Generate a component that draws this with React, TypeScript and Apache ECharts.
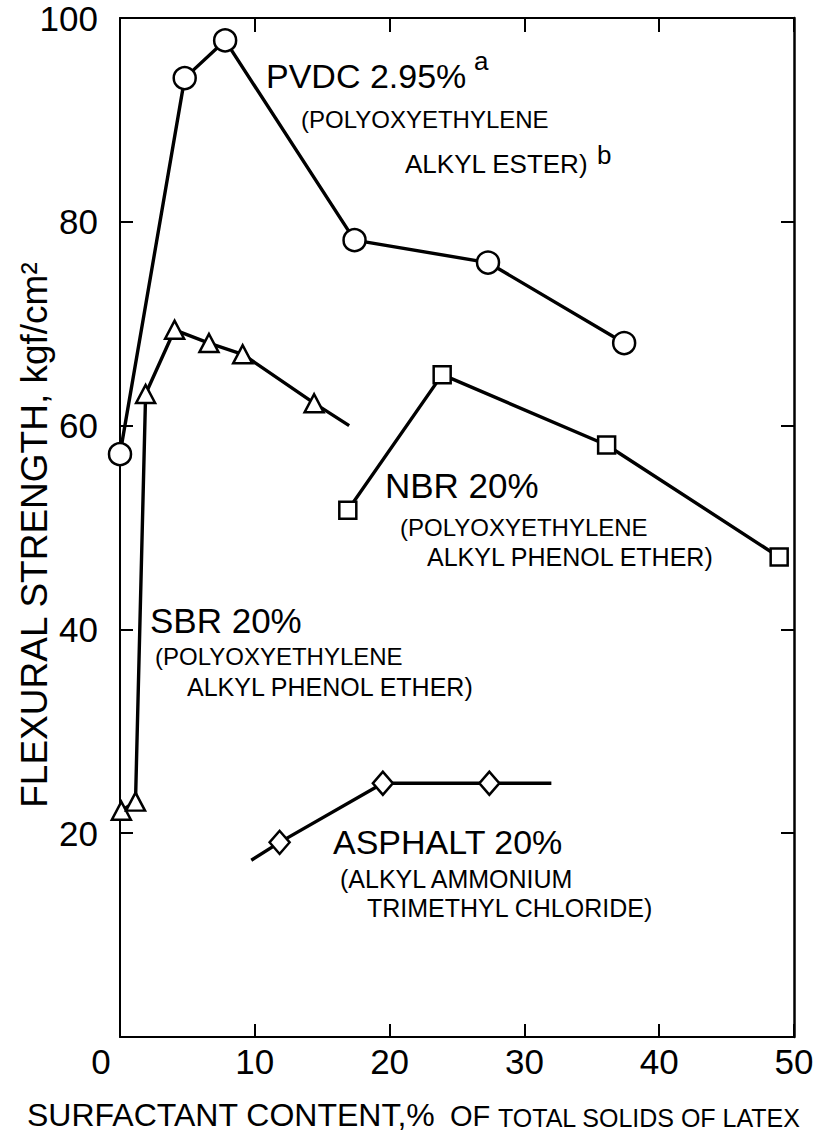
import React, { useEffect, useRef } from 'react';
import * as echarts from 'echarts';

const FONT = "'Liberation Sans', Arial, sans-serif";

// Axis ticks
const xMin = 0, xMax = 50, xStep = 10;
const yMin = 0, yMax = 100, yStep = 20;

// PVDC 2.95% (circles)
const pvdcX = [0, 4.8, 7.8, 17.4, 27.3, 37.4];
const pvdcY = [57.2, 94.1, 97.8, 78.2, 76.0, 68.1];

// SBR 20% (triangles); last point is the line end without marker
const sbrX = [0.1, 1.15, 1.9, 4.05, 6.6, 9.1, 14.4, 17.0];
const sbrY = [22.2, 23.1, 63.1, 69.4, 68.1, 67.0, 62.2, 60.0];
const sbrMarked = [true, true, true, true, true, true, true, false];

// NBR 20% (squares)
const nbrX = [16.9, 23.9, 36.1, 48.9];
const nbrY = [51.7, 65.0, 58.1, 47.1];

// ASPHALT 20% (diamonds); first and last are line ends without marker
const asphX = [9.74, 11.84, 19.5, 27.4, 32.0];
const asphY = [17.35, 19.1, 24.9, 24.9, 24.9];
const asphMarked = [false, true, true, true, false];

function pts(xs: number[], ys: number[], marked?: boolean[]) {
  return xs.map((x, i) =>
    marked && !marked[i] ? { value: [x, ys[i]], symbol: 'none' } : { value: [x, ys[i]] }
  );
}

function lineSeries(name: string, data: any[], symbol: string, size: any) {
  return {
    name,
    type: 'line',
    data,
    symbol,
    symbolSize: size,
    showSymbol: true,
    showAllSymbol: true,
    lineStyle: { color: '#000', width: 3.4 },
    itemStyle: { color: '#fff', borderColor: '#000', borderWidth: 2.5 },
    emphasis: { disabled: true },
    z: 3,
  };
}

function txt(text: string, x: number, y: number, size: number) {
  return {
    type: 'text',
    x,
    y,
    style: { text, fontSize: size, fontFamily: FONT, fill: '#000', align: 'left', verticalAlign: 'middle' },
  };
}

const axisLineStyle = { color: '#000', width: 2 };

export default function App() {
  const ref = useRef<HTMLDivElement>(null);
  useEffect(() => {
    const chart = echarts.init(ref.current!, null, { renderer: 'svg' });
    const option: any = {
      animation: false,
      backgroundColor: '#fff',
      grid: { left: 120, right: 29, top: 18, bottom: 103, containLabel: false, outerBoundsMode: 'none' },
      xAxis: [
        {
          type: 'value', min: xMin, max: xMax, interval: xStep, position: 'bottom',
          axisLine: { show: true, onZero: false, lineStyle: axisLineStyle },
          axisTick: { show: true, inside: true, length: 13, lineStyle: axisLineStyle },
          splitLine: { show: false },
          axisLabel: {
            show: true, fontSize: 35, fontFamily: FONT, color: '#000', margin: 7,
            formatter: (v: number) => (v === 0 ? '{z|0}' : String(v)),
            rich: { z: { fontSize: 35, fontFamily: FONT, color: '#000', padding: [0, 38, 0, 0] } },
          },
        },
        {
          type: 'value', min: xMin, max: xMax, interval: xStep, position: 'top',
          axisLine: { show: true, onZero: false, lineStyle: axisLineStyle },
          axisTick: { show: true, inside: true, length: 14, lineStyle: axisLineStyle },
          splitLine: { show: false },
          axisLabel: { show: false },
        },
      ],
      yAxis: [
        {
          type: 'value', min: yMin, max: yMax, interval: yStep, position: 'left',
          axisLine: { show: true, onZero: false, lineStyle: axisLineStyle },
          axisTick: { show: true, inside: true, length: 13, lineStyle: axisLineStyle },
          splitLine: { show: false },
          axisLabel: {
            show: true, fontSize: 35, fontFamily: FONT, color: '#000', margin: 22,
            formatter: (v: number) => (v === 0 ? '' : String(v)),
          },
        },
        {
          type: 'value', min: yMin, max: yMax, interval: yStep, position: 'right',
          axisLine: { show: true, onZero: false, lineStyle: { color: '#000', width: 2.5 } },
          axisTick: { show: true, inside: true, length: 13, lineStyle: axisLineStyle },
          splitLine: { show: false },
          axisLabel: { show: false },
        },
      ],
      series: [
        lineSeries('PVDC', pts(pvdcX, pvdcY), 'circle', 22),
        lineSeries('SBR', pts(sbrX, sbrY, sbrMarked), 'triangle', [19, 18]),
        lineSeries('NBR', pts(nbrX, nbrY), 'rect', 17),
        lineSeries('ASPHALT', pts(asphX, asphY, asphMarked), 'diamond', [20, 23]),
      ],
      graphic: [
        txt('PVDC 2.95%', 266, 76, 34),
        txt('a', 474, 61, 26),
        txt('(POLYOXYETHYLENE', 301, 119, 24),
        txt('ALKYL ESTER)', 405, 164, 26),
        txt('b', 597, 155, 26),
        txt('NBR 20%', 385, 485, 35),
        txt('(POLYOXYETHYLENE', 400, 527, 24),
        txt('ALKYL PHENOL ETHER)', 427, 557, 25),
        txt('SBR 20%', 150, 620, 35),
        txt('(POLYOXYETHYLENE', 155, 656, 24),
        txt('ALKYL PHENOL ETHER)', 187, 687, 25),
        txt('ASPHALT 20%', 333, 842, 34),
        txt('(ALKYL AMMONIUM', 340, 879, 25),
        txt('TRIMETHYL CHLORIDE)', 367, 908, 25),
        txt('SURFACTANT CONTENT,%', 27, 1115, 32),
        txt('OF', 450, 1116, 29),
        txt('TOTAL SOLIDS OF LATEX', 498, 1118, 25),
        {
          type: 'text',
          x: 34,
          y: 535,
          rotation: Math.PI / 2,
          style: {
            text: 'FLEXURAL STRENGTH, kgf/cm²', fontSize: 37, fontFamily: FONT, fill: '#000',
            align: 'center', verticalAlign: 'middle',
          },
        },
      ],
    };
    chart.setOption(option);
    return () => chart.dispose();
  }, []);
  return (
    <div
      ref={ref}
      style={{ position: 'absolute', left: 0, top: 0, width: 823, height: 1140, background: '#fff' }}
    />
  );
}
